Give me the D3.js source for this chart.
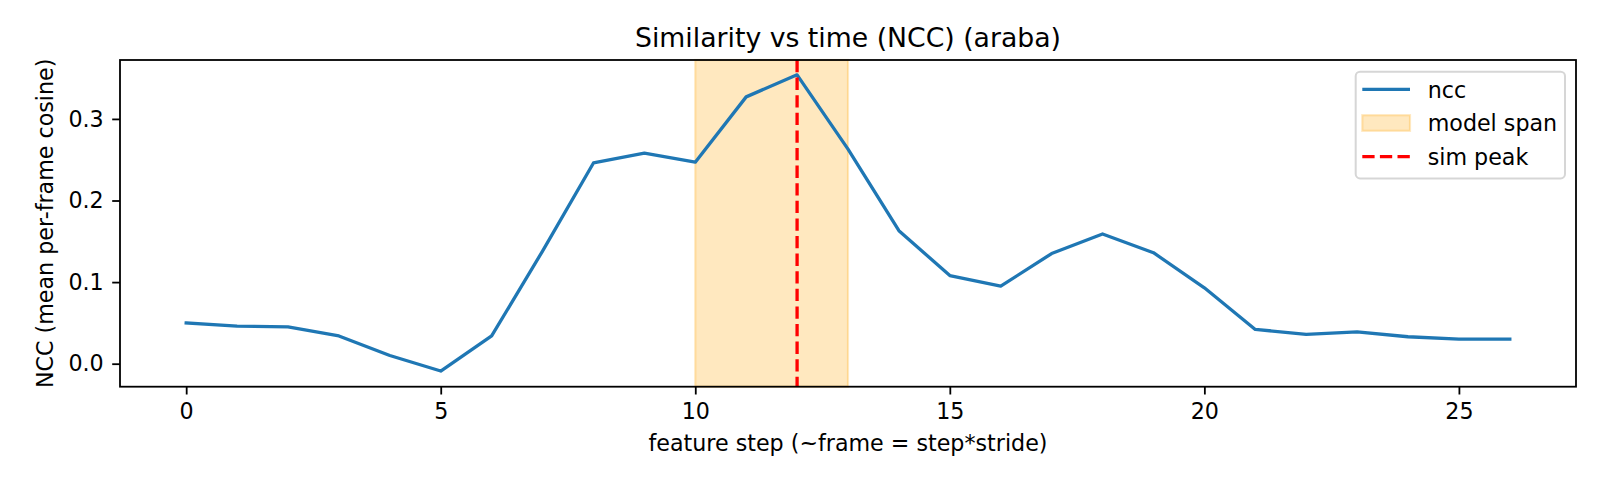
<!DOCTYPE html>
<html>
<head>
<meta charset="utf-8">
<script src="https://cdn.jsdelivr.net/npm/d3@7"></script>
<style>
  body { margin: 0; background: #fff; }
  svg { font-family: "DejaVu Sans", sans-serif; }
</style>
</head>
<body>
<svg width="1600" height="480"></svg>
<script>
const steps = [0, 1, 2, 3, 4, 5, 6, 7, 8, 9, 10, 11, 12, 13, 14, 15, 16, 17, 18, 19, 20, 21, 22, 23, 24, 25, 26];
const ncc = [0.050, 0.046, 0.045, 0.034, 0.010, -0.009, 0.034, 0.138, 0.246, 0.258, 0.247, 0.327, 0.354,
             0.263, 0.163, 0.108, 0.095, 0.135, 0.159, 0.136, 0.093, 0.042, 0.036, 0.039, 0.033, 0.030, 0.030];
const modelSpan = [10, 13];
const simPeak = 12;
const xTicks = [0, 5, 10, 15, 20, 25];
const yTicks = [0.0, 0.1, 0.2, 0.3];
const legendLabels = ["ncc", "model span", "sim peak"];

const blue = "#1f77b4";
const fontSize = 22.2;
const plotLeft = 120, plotRight = 1576, plotTop = 60, plotBottom = 386.7;

const x = d3.scaleLinear().domain([-1.3, 27.3]).range([plotLeft, plotRight]);
const y = d3.scaleLinear().domain([-0.0282, 0.3722]).range([plotBottom, plotTop]);

const svg = d3.select("svg");

// shaded span for the model
svg.append("rect")
    .attr("x", x(modelSpan[0]))
    .attr("y", plotTop)
    .attr("width", x(modelSpan[1]) - x(modelSpan[0]))
    .attr("height", plotBottom - plotTop)
    .attr("fill", "orange")
    .attr("fill-opacity", 0.25)
    .attr("stroke", "orange")
    .attr("stroke-opacity", 0.25)
    .attr("stroke-width", 2.2);

const line = d3.line()
    .x((d, i) => x(steps[i]))
    .y(d => y(d));

svg.append("path")
    .datum(ncc)
    .attr("d", line)
    .attr("fill", "none")
    .attr("stroke", blue)
    .attr("stroke-width", 3.3)
    .attr("stroke-linejoin", "round")
    .attr("stroke-linecap", "square");

svg.append("line")
    .attr("x1", x(simPeak)).attr("x2", x(simPeak))
    .attr("y1", plotTop).attr("y2", plotBottom)
    .attr("stroke", "#ff0000")
    .attr("stroke-width", 3.3)
    .attr("stroke-dasharray", "12.3,5.3");

// axes
const xAxis = svg.append("g")
    .attr("transform", `translate(0,${plotBottom})`)
    .call(d3.axisBottom(x).tickValues(xTicks).tickFormat(d3.format("d")).tickSize(7.8).tickPadding(9));
const yAxis = svg.append("g")
    .attr("transform", `translate(${plotLeft},0)`)
    .call(d3.axisLeft(y).tickValues(yTicks).tickFormat(d3.format(".1f")).tickSize(7.8).tickPadding(8.5));

[xAxis, yAxis].forEach(g => {
  g.select(".domain").remove();
  g.selectAll(".tick line").attr("stroke", "#000").attr("stroke-width", 1.8);
  g.selectAll(".tick text").attr("fill", "#000").style("font-size", fontSize + "px")
      .style("font-family", "DejaVu Sans");
});

svg.append("rect")
    .attr("x", plotLeft).attr("y", plotTop)
    .attr("width", plotRight - plotLeft).attr("height", plotBottom - plotTop)
    .attr("fill", "none")
    .attr("stroke", "#000")
    .attr("stroke-width", 1.8);

// titles
svg.append("text")
    .attr("x", (plotLeft + plotRight) / 2).attr("y", 46.5)
    .attr("text-anchor", "middle")
    .style("font-size", "26.7px")
    .text("Similarity vs time (NCC) (araba)");

svg.append("text")
    .attr("x", (plotLeft + plotRight) / 2).attr("y", 451)
    .attr("text-anchor", "middle")
    .style("font-size", fontSize + "px")
    .text("feature step (~frame = step*stride)");

svg.append("text")
    .attr("transform", `translate(53,${(plotTop + plotBottom) / 2}) rotate(-90)`)
    .attr("text-anchor", "middle")
    .style("font-size", fontSize + "px")
    .text("NCC (mean per-frame cosine)");

// legend
const legend = svg.append("g");
legend.append("rect")
    .attr("x", 1355.7).attr("y", 71.7)
    .attr("width", 209.3).attr("height", 106.7)
    .attr("rx", 4.4)
    .attr("fill", "#fff").attr("fill-opacity", 0.8)
    .attr("stroke", "#cccccc").attr("stroke-opacity", 0.8).attr("stroke-width", 2);

const rows = legend.selectAll("g.row")
    .data(legendLabels)
    .join("g")
    .attr("class", "row")
    .attr("transform", (d, i) => `translate(0,${89.3 + i * 33.7})`);

rows.append("text")
    .attr("x", 1427.7).attr("y", 8.3)
    .style("font-size", fontSize + "px")
    .text(d => d);

rows.filter((d, i) => i === 0).append("line")
    .attr("x1", 1362.3).attr("x2", 1410).attr("y1", 0).attr("y2", 0)
    .attr("stroke", blue).attr("stroke-width", 3.3);

rows.filter((d, i) => i === 1).append("rect")
    .attr("x", 1362.3).attr("y", -7.8).attr("width", 47.7).attr("height", 15.6)
    .attr("fill", "orange").attr("fill-opacity", 0.25)
    .attr("stroke", "orange").attr("stroke-opacity", 0.25).attr("stroke-width", 2.2);

rows.filter((d, i) => i === 2).append("line")
    .attr("x1", 1362.3).attr("x2", 1410).attr("y1", 0).attr("y2", 0)
    .attr("stroke", "#ff0000").attr("stroke-width", 3.3)
    .attr("stroke-dasharray", "12.3,5.3");
</script>
</body>
</html>
